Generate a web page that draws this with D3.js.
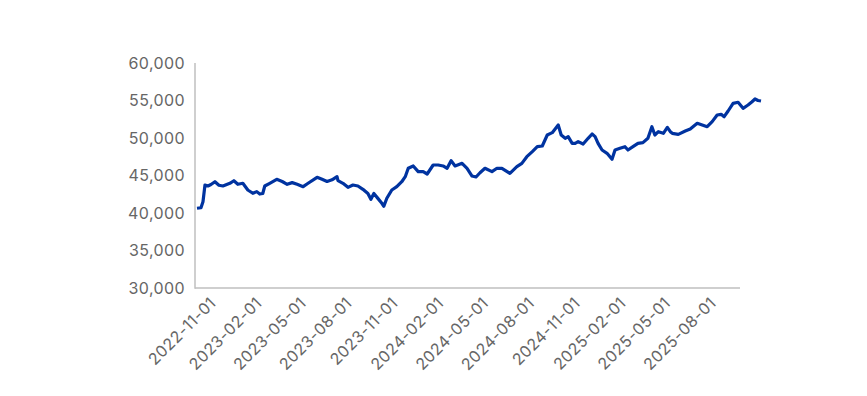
<!DOCTYPE html>
<html>
<head>
<meta charset="utf-8">
<style>
  body { margin: 0; background: #fff; }
  text { font-family: Inter, "Open Sans", sans-serif; fill: #666; letter-spacing: 0.4px; }
</style>
</head>
<body>
<svg width="867" height="396"></svg>
<script src="https://d3js.org/d3.v7.min.js"></script>
<script>
// series (date, value)
var dates = [
  "2022-09-24","2022-10-02","2022-10-06","2022-10-10","2022-10-16","2022-10-22","2022-10-30",
  "2022-11-07","2022-11-15","2022-11-29","2022-12-07","2022-12-15","2022-12-25",
  "2023-01-04","2023-01-14","2023-01-22","2023-01-28","2023-02-03","2023-02-07","2023-02-17",
  "2023-03-03","2023-03-14","2023-03-24","2023-04-03","2023-04-13","2023-04-25","2023-05-05",
  "2023-05-23","2023-06-02","2023-06-12","2023-06-22","2023-07-02","2023-07-04","2023-07-14",
  "2023-07-24","2023-08-03","2023-08-13","2023-08-23","2023-09-02","2023-09-08","2023-09-14",
  "2023-09-22","2023-09-30","2023-10-04","2023-10-10","2023-10-20","2023-10-30","2023-11-09",
  "2023-11-16","2023-11-22","2023-12-02","2023-12-12","2023-12-22","2023-12-30",
  "2024-01-11","2024-01-21","2024-01-31","2024-02-08","2024-02-16","2024-02-24","2024-03-09",
  "2024-03-19","2024-03-29","2024-04-06","2024-04-14","2024-04-24","2024-05-08","2024-05-18",
  "2024-05-28","2024-06-13","2024-06-27","2024-07-07","2024-07-17","2024-07-28","2024-08-07",
  "2024-08-17","2024-08-27","2024-09-06","2024-09-18","2024-09-24","2024-10-02","2024-10-08",
  "2024-10-16","2024-10-22","2024-10-28","2024-11-07","2024-11-17","2024-11-25","2024-12-01",
  "2024-12-07","2024-12-15","2024-12-25",
  "2025-01-04","2025-01-10","2025-01-20","2025-01-30","2025-02-05","2025-02-15","2025-02-25",
  "2025-03-07","2025-03-17","2025-03-25","2025-03-31","2025-04-07","2025-04-17","2025-04-25",
  "2025-05-01","2025-05-05","2025-05-17","2025-05-31","2025-06-10","2025-06-24","2025-07-04",
  "2025-07-14","2025-07-24","2025-08-03","2025-08-11","2025-08-17","2025-08-25","2025-09-04",
  "2025-09-14","2025-09-24","2025-10-04","2025-10-12","2025-10-18","2025-10-24","2025-10-30"
];
var values = [
  40630,40700,41500,43730,43600,43800,44170,
  43700,43600,43960,44300,43830,43960,
  43070,42630,42850,42530,42600,43600,43960,
  44490,44200,43830,44050,43830,43510,43960,
  44760,44490,44200,44420,44840,44310,43960,
  43420,43730,43600,43160,42600,41820,42600,
  41950,41300,40900,41960,43070,43510,44170,
  44840,45960,46270,45510,45510,45200,
  46400,46400,46270,45960,46980,46270,46620,
  45960,44930,44800,45370,45960,45510,45960,
  45960,45290,46180,46620,47510,48180,48840,
  48930,50400,50710,51730,50400,49960,50180,
  49290,49290,49510,49200,49960,50530,50180,
  49290,48400,47960,
  47160,48400,48620,48840,48400,48840,49290,
  49380,49960,51510,50400,50840,50620,51420,
  50840,50620,50490,50930,51200,51960,51730,
  51510,52180,53070,53160,52840,53600,54620,
  54760,53960,54400,54840,55200,55000,54930
];
var xTicks = ["2022-11-01","2023-02-01","2023-05-01","2023-08-01","2023-11-01","2024-02-01",
              "2024-05-01","2024-08-01","2024-11-01","2025-02-01","2025-05-01","2025-08-01"];
var yTicks = [30000,35000,40000,45000,50000,55000,60000];

var parseDate = d3.timeParse("%Y-%m-%d");
var data = dates.map(function(d, i) { return {date: parseDate(d), value: values[i]}; });

var svg = d3.select("svg");

var x = d3.scaleTime()
    .domain([parseDate("2022-09-24"), parseDate("2025-10-30")])
    .range([197, 761]);

var y = d3.scaleLinear()
    .domain([30000, 60000])
    .range([288, 63]);

// axis lines
svg.append("line")
    .attr("x1", 195).attr("x2", 195)
    .attr("y1", y(60000)).attr("y2", y(30000) + 0.75)
    .attr("stroke", "#bfbfbf").attr("stroke-width", 1.5);
svg.append("line")
    .attr("x1", 195).attr("x2", 740)
    .attr("y1", y(30000)).attr("y2", y(30000))
    .attr("stroke", "#bfbfbf").attr("stroke-width", 1.5);

// y labels
svg.append("g").selectAll("text")
    .data(yTicks)
    .enter().append("text")
    .attr("x", 185)
    .attr("y", function(d) { return y(d); })
    .attr("dy", "0.35em")
    .attr("text-anchor", "end")
    .attr("font-size", 16)
    .text(d3.format(","));

// x labels, rotated
svg.append("g").selectAll("text")
    .data(xTicks)
    .enter().append("text")
    .attr("transform", function(d) {
      return "translate(" + (x(parseDate(d)) + 1) + ",304) rotate(-45)";
    })
    .attr("text-anchor", "end")
    .attr("font-size", 16)
    .text(function(d) { return d; });

// line
var line = d3.line()
    .x(function(d) { return x(d.date); })
    .y(function(d) { return y(d.value); });

svg.append("path")
    .datum(data)
    .attr("fill", "none")
    .attr("stroke", "#0033a0")
    .attr("stroke-width", 3.2)
    .attr("stroke-linejoin", "round")
    .attr("d", line);
</script>
</body>
</html>
